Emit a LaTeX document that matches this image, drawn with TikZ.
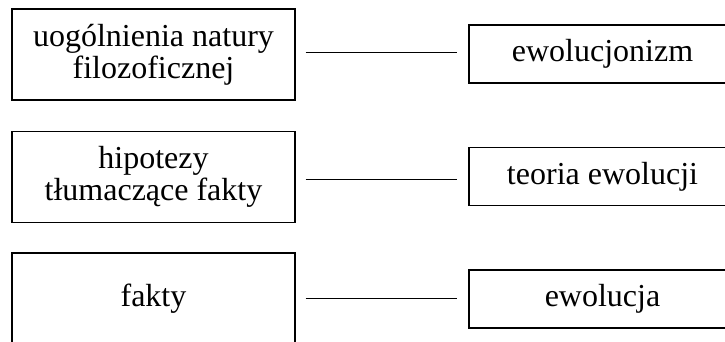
\documentclass[tikz,border=0pt]{standalone}
\usepackage{fontspec}
\setmainfont{Liberation Serif}
\begin{document}
\begin{tikzpicture}[x=1pt,y=1pt,
  leftbox/.style={draw, line width=1.2pt, minimum width=283pt, minimum height=91pt, inner sep=0pt, align=center, font=\fontsize{32}{32}\selectfont},
  rightbox/.style={draw, line width=1.2pt, minimum width=267pt, minimum height=58pt, inner sep=0pt, align=center, font=\fontsize{32}{32}\selectfont},
  link/.style={line width=1pt, shorten <=10pt, shorten >=11pt}]
\useasboundingbox (0,0) rectangle (725,342);
\clip (0,0) rectangle (725,342);
\node[leftbox] (a) at (153.5,287.5) {uogólnienia natury\\filozoficznej};
\node[leftbox] (b) at (153.5,165) {hipotezy\\tłumaczące fakty};
\node[leftbox, minimum height=92pt] (c) at (153.5,43) {fakty};
\node[rightbox] (A) at (602.5,288) {ewolucjonizm};
\node[rightbox] (B) at (602.5,165.5) {teoria ewolucji};
\node[rightbox] (C) at (602.5,43) {ewolucja};
\draw[link] ([yshift=1.5pt]a.east) -- ([yshift=1pt]A.west);
\draw[link] ([yshift=-3pt]b.east) -- ([yshift=-3.5pt]B.west);
\draw[link] (c.east) -- (C.west);
\end{tikzpicture}
\end{document}
